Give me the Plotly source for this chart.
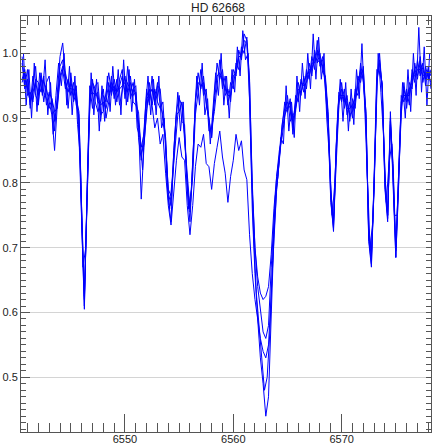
import plotly.graph_objects as go

# Wavelength grid (Angstrom) of exposures A-D
wavelength = [
    6540.50, 6540.75, 6541.00, 6541.25, 6541.50, 6541.75, 6542.00, 6542.25,
    6542.50, 6542.75, 6543.00, 6543.25, 6543.50, 6543.75, 6544.00, 6544.25,
    6544.50, 6544.75, 6545.00, 6545.25, 6545.50, 6545.75, 6546.00, 6546.25,
    6546.50, 6546.75, 6547.00, 6547.25, 6547.50, 6547.75, 6548.00, 6548.25,
    6548.50, 6548.75, 6549.00, 6549.25, 6549.50, 6549.75, 6550.00, 6550.25,
    6550.50, 6550.75, 6551.00, 6551.25, 6551.50, 6551.75, 6552.00, 6552.25,
    6552.50, 6552.75, 6553.00, 6553.25, 6553.50, 6553.75, 6554.00, 6554.25,
    6554.50, 6554.75, 6555.00, 6555.25, 6555.50, 6555.75, 6556.00, 6556.25,
    6556.50, 6556.75, 6557.00, 6557.25, 6557.50, 6557.75, 6558.00, 6558.25,
    6558.50, 6558.75, 6559.00, 6559.25, 6559.50, 6559.75, 6560.00, 6560.25,
    6560.50, 6560.75, 6561.00, 6561.25, 6561.50, 6561.75, 6562.00, 6562.25,
    6562.50, 6562.75, 6563.00, 6563.25, 6563.50, 6563.75, 6564.00, 6564.25,
    6564.50, 6564.75, 6565.00, 6565.25, 6565.50, 6565.75, 6566.00, 6566.25,
    6566.50, 6566.75, 6567.00, 6567.25, 6567.50, 6567.75, 6568.00, 6568.25,
    6568.50, 6568.75, 6569.00, 6569.25, 6569.50, 6569.75, 6570.00, 6570.25,
    6570.50, 6570.75, 6571.00, 6571.25, 6571.50, 6571.75, 6572.00, 6572.25,
    6572.50, 6572.75, 6573.00, 6573.25, 6573.50, 6573.75, 6574.00, 6574.25,
    6574.50, 6574.75, 6575.00, 6575.25, 6575.50, 6575.75, 6576.00, 6576.25,
    6576.50, 6576.75, 6577.00, 6577.25, 6577.50, 6577.75, 6578.00, 6578.25,
]

# Wavelength grid of exposure E (offset sampling)
wavelength_e = [
    6540.625, 6540.875, 6541.125, 6541.375, 6541.625, 6541.875, 6542.125, 6542.375,
    6542.625, 6542.875, 6543.125, 6543.375, 6543.625, 6543.875, 6544.125, 6544.375,
    6544.625, 6544.875, 6545.125, 6545.375, 6545.625, 6545.875, 6546.125, 6546.375,
    6546.625, 6546.875, 6547.125, 6547.375, 6547.625, 6547.875, 6548.125, 6548.375,
    6548.625, 6548.875, 6549.125, 6549.375, 6549.625, 6549.875, 6550.125, 6550.375,
    6550.625, 6550.875, 6551.125, 6551.375, 6551.625, 6551.875, 6552.125, 6552.375,
    6552.625, 6552.875, 6553.125, 6553.375, 6553.625, 6553.875, 6554.125, 6554.375,
    6554.625, 6554.875, 6555.125, 6555.375, 6555.625, 6555.875, 6556.125, 6556.375,
    6556.625, 6556.875, 6557.125, 6557.375, 6557.625, 6557.875, 6558.125, 6558.375,
    6558.625, 6558.875, 6559.125, 6559.375, 6559.625, 6559.875, 6560.125, 6560.375,
    6560.625, 6560.875, 6561.125, 6561.375, 6561.625, 6561.875, 6562.125, 6562.375,
    6562.625, 6562.875, 6563.125, 6563.375, 6563.625, 6563.875, 6564.125, 6564.375,
    6564.625, 6564.875, 6565.125, 6565.375, 6565.625, 6565.875, 6566.125, 6566.375,
    6566.625, 6566.875, 6567.125, 6567.375, 6567.625, 6567.875, 6568.125, 6568.375,
    6568.625, 6568.875, 6569.125, 6569.375, 6569.625, 6569.875, 6570.125, 6570.375,
    6570.625, 6570.875, 6571.125, 6571.375, 6571.625, 6571.875, 6572.125, 6572.375,
    6572.625, 6572.875, 6573.125, 6573.375, 6573.625, 6573.875, 6574.125, 6574.375,
    6574.625, 6574.875, 6575.125, 6575.375, 6575.625, 6575.875, 6576.125, 6576.375,
    6576.625, 6576.875, 6577.125, 6577.375, 6577.625, 6577.875, 6578.125,
]

# Normalised flux of the individual exposures
flux_a = [
    .995, .95, .975, .915, .95, .98, .92, .965,
    .925, .955, .965, .915, .88, .94, .995, 1.016,
    .965, .915, .97, .93, .95, .875, .74, .605,
    .79, .95, .915, .95, .955, .905, .91, .94,
    .97, .94, .95, .925, .96, .975, .93, .98,
    .93, .945, .95, .87, .835, .88, .945, .92,
    .965, .92, .95, .945, .895, .865, .775, .74,
    .85, .91, .935, .895, .89, .79, .74, .83,
    .93, .97, .945, .965, .92, .90, .87, .935,
    .985, .96, .975, .935, .945, .925, .975, .965,
    1.005, .99, 1.03, 1.02, .93, .76, .66, .59,
    .53, .49, .44, .47, .60, .72, .79, .84,
    .885, .925, .91, .93, .875, .935, .925, .96,
    .94, .975, .96, .995, .975, 1.02, .98, .995,
    .945, .89, .77, .73, .86, .94, .925, .945,
    .905, .925, .90, .945, .935, .985, .955, .91,
    .71, .67, .81, .975, .97, .955, .79, .74,
    .91, .81, .685, .79, .935, .925, .945, .92,
    .975, .955, .99, .965, .985, .95, .98, .945,
]

flux_b = [
    .96, .975, .935, .94, .925, .96, .955, .94,
    .965, .92, .94, .93, .91, .915, .96, .975,
    .945, .96, .935, .955, .92, .905, .76, .625,
    .77, .92, .96, .925, .91, .925, .945, .90,
    .925, .965, .93, .96, .92, .94, .965, .925,
    .965, .925, .92, .91, .845, .86, .905, .955,
    .92, .945, .925, .915, .925, .855, .79, .78,
    .83, .885, .93, .92, .87, .81, .76, .81,
    .905, .94, .975, .935, .945, .88, .885, .91,
    .955, .99, .945, .965, .92, .955, .945, .985,
    .975, 1.01, 1.00, 1.025, .96, .79, .70, .655,
    .63, .62, .625, .64, .69, .76, .81, .85,
    .87, .90, .935, .895, .905, .91, .955, .935,
    .965, .945, .985, .965, 1.005, .985, 1.0, .97,
    .965, .91, .785, .74, .84, .92, .955, .915,
    .935, .895, .93, .915, .965, .955, .98, .89,
    .73, .69, .79, .95, 1.0, .94, .81, .75,
    .89, .83, .70, .81, .905, .955, .915, .955,
    .945, .985, .96, .995, .955, .98, .96, .975,
]

flux_c = [
    .985, .945, .96, .92, .965, .935, .925, .97,
    .94, .93, .915, .93, .895, .925, .98, .99,
    .955, .94, .96, .925, .94, .895, .745, .61,
    .785, .935, .94, .935, .94, .895, .935, .925,
    .955, .935, .96, .94, .95, .965, .94, .955,
    .94, .955, .93, .895, .855, .875, .93, .935,
    .945, .925, .955, .92, .905, .87, .785, .765,
    .845, .905, .91, .925, .875, .80, .755, .825,
    .925, .955, .95, .955, .925, .895, .87, .925,
    .965, .97, .96, .945, .935, .935, .965, .97,
    .995, .995, 1.02, 1.015, .955, .80, .70, .64,
    .60, .57, .56, .58, .67, .75, .81, .84,
    .89, .915, .925, .915, .895, .925, .945, .94,
    .955, .965, .965, .985, .985, 1.005, .99, .98,
    .955, .905, .79, .735, .855, .935, .935, .935,
    .915, .915, .92, .93, .95, .965, .975, .905,
    .72, .685, .80, .96, .985, .95, .80, .75,
    .90, .82, .695, .80, .925, .935, .935, .935,
    .965, .965, .975, .975, .965, .97, .965, .955,
]

flux_d = [
    .955, .97, .945, .925, .94, .955, .935, .96,
    .955, .945, .925, .905, .85, .92, .965, .98,
    .97, .95, .945, .945, .93, .91, .755, .62,
    .775, .925, .955, .945, .925, .92, .925, .915,
    .935, .955, .94, .945, .945, .95, .955, .94,
    .955, .935, .94, .89, .775, .855, .915, .945,
    .92, .885, .90, .86, .875, .815, .765, .735,
    .79, .835, .87, .84, .835, .765, .72, .765,
    .825, .86, .855, .875, .83, .825, .79, .83,
    .855, .88, .84, .815, .77, .81, .835, .875,
    .85, .865, .82, .805, .72, .66, .62, .59,
    .56, .54, .53, .55, .63, .72, .79, .835,
    .88, .905, .915, .925, .885, .915, .935, .955,
    .95, .955, .975, .975, .995, .99, .985, .99,
    .96, .895, .775, .725, .845, .925, .945, .925,
    .925, .905, .91, .925, .955, .975, .96, .895,
    .715, .675, .795, .955, .99, .945, .795, .745,
    .895, .815, .685, .795, .915, .945, .925, .945,
    .955, .975, .965, .985, .975, .96, .975, .965,
]

flux_e = [
    1.0, .92, .975, .90, .985, .91, .97, .935,
    .99, .905, .955, .875, .935, .985, .95, 1.0,
    .92, .98, .905, .965, .89, .84, .67, .70,
    .86, .97, .905, .96, .88, .95, .895, .965,
    .91, .98, .92, .975, .905, .99, .92, .975,
    .91, .96, .885, .87, .82, .91, .965, .905,
    .96, .905, .965, .885, .90, .80, .76, .81,
    .88, .94, .88, .925, .83, .76, .79, .89,
    .965, .92, .985, .905, .93, .86, .92, .97,
    .935, 1.0, .92, .965, .90, .975, .94, 1.01,
    .965, 1.035, .99, 1.0, .85, .72, .63, .58,
    .52, .48, .50, .57, .68, .78, .81, .87,
    .86, .95, .88, .925, .87, .965, .91, .985,
    .93, 1.0, .945, 1.03, .96, 1.025, .96, 1.0,
    .90, .84, .75, .80, .905, .96, .895, .955,
    .88, .945, .89, .975, .93, 1.015, .92, .80,
    .70, .74, .89, 1.0, .94, .87, .77, .83,
    .86, .75, .75, .87, .955, .90, .975, .91,
    1.0, .935, 1.04, .94, 1.01, .92, 1.0,
]

title_text = "HD 62668"
x_range = [6540.40, 6578.25]
y_range = [0.4156, 1.0576]

LINE = dict(color="#0000ff", width=1)
AXCOL = "#555555"

fig = go.Figure()
for xs, fl in ((wavelength, flux_a), (wavelength, flux_b), (wavelength, flux_c), (wavelength_e, flux_e)):
    fig.add_trace(go.Scatter(x=xs, y=fl, mode="lines", line=LINE,
                             hoverinfo="skip", showlegend=False))
# last spectrum drawn on the overlay axes (same ranges) so the top/right tick axes render
fig.add_trace(go.Scatter(x=wavelength, y=flux_d, mode="lines", line=LINE,
                         xaxis="x2", yaxis="y2", hoverinfo="skip", showlegend=False))

fig.update_layout(
    width=436, height=445,
    margin=dict(l=21, r=5, t=16, b=13, autoexpand=False),
    paper_bgcolor="white", plot_bgcolor="white",
    font=dict(family="Liberation Sans, Arial, sans-serif", size=11, color="#222222"),
    title=dict(text=title_text, x=0.5, xref="container", y=0.982, yref="container",
               xanchor="center", yanchor="middle", font=dict(size=12, color="#222222")),
    xaxis=dict(range=x_range, showgrid=False, zeroline=False, automargin=False,
               showline=True, linecolor=AXCOL, linewidth=1, mirror=True,
               ticks="inside", ticklen=18, tickcolor=AXCOL, tickwidth=1,
               tick0=6550, dtick=10, tickformat="d", tickfont=dict(size=11),
               ticklabelstandoff=-3,
               minor=dict(ticks="inside", ticklen=9, tickcolor=AXCOL, dtick=1, showgrid=False)),
    xaxis2=dict(range=x_range, overlaying="x", side="top", anchor="y", automargin=False,
                showgrid=False, zeroline=False, showline=False,
                ticks="inside", ticklen=9, tickcolor=AXCOL, tickwidth=1,
                tick0=6550, dtick=1, showticklabels=False),
    yaxis=dict(range=y_range, showgrid=True, gridcolor="#d4d4d4", gridwidth=1,
               zeroline=False, showline=True, linecolor=AXCOL, linewidth=1, mirror=True,
               automargin=False,
               ticks="inside", ticklen=9, tickcolor=AXCOL, tickwidth=1,
               tick0=0.5, dtick=0.1, tickformat=".1f", tickfont=dict(size=11),
               minor=dict(ticks="inside", ticklen=5, tickcolor=AXCOL, dtick=0.01, showgrid=False)),
    yaxis2=dict(range=y_range, overlaying="y", side="right", anchor="x", automargin=False,
                showgrid=False, zeroline=False, showline=False,
                ticks="inside", ticklen=5, tickcolor=AXCOL, tickwidth=1,
                tick0=0.5, dtick=0.01, showticklabels=False),
)

fig.write_html(
    "out.html",
    config={"displayModeBar": False},
    post_script="document.body.style.margin='0';document.body.style.padding='0';"
                "document.documentElement.style.overflow='hidden';",
)
